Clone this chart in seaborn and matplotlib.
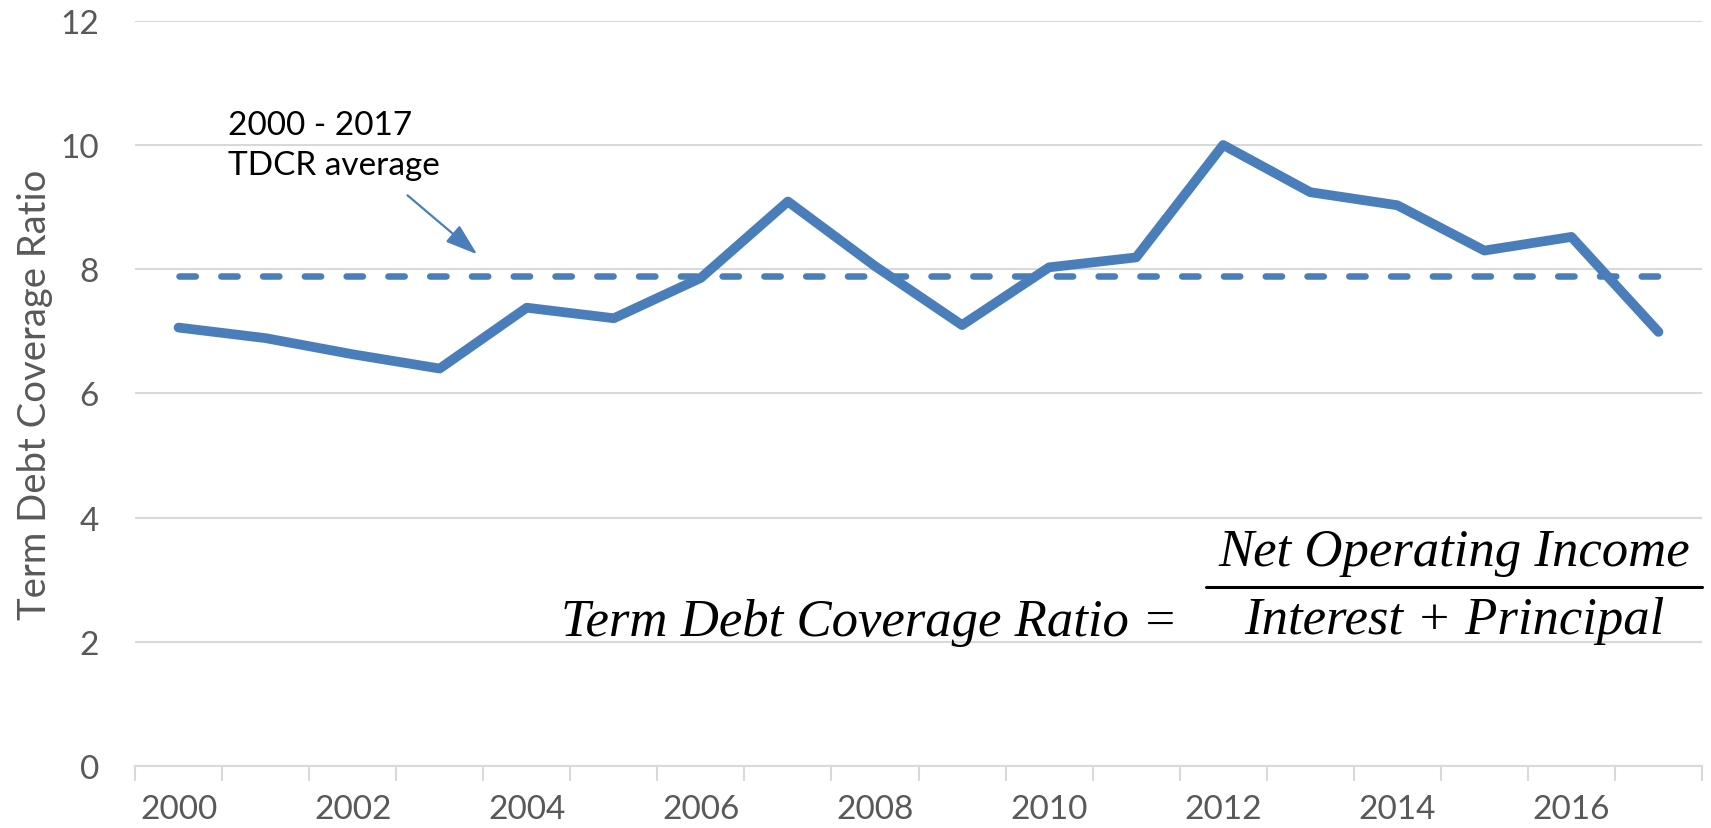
import matplotlib
matplotlib.use('Agg')
import matplotlib.pyplot as plt
import seaborn as sns
import pandas as pd
from matplotlib.lines import Line2D

years = list(range(2000, 2018))
tdcr = [7.06, 6.89, 6.63, 6.40, 7.38, 7.21, 7.86, 9.09, 8.05, 7.10,
        8.03, 8.19, 10.0, 9.24, 9.03, 8.30, 8.52, 6.99]
avg_value = 7.89
x_labels = [str(y) for y in years[::2]]
y_ticks = [0, 2, 4, 6, 8, 10, 12]

sns.set_theme(style='white')
plt.rcParams['font.family'] = ['Lato', 'DejaVu Sans']

BLUE = '#4a7ebb'
GRID = '#d9d9d9'
TXT = '#595959'

W, H = 1711, 829
fig = plt.figure(figsize=(W / 100, H / 100), dpi=100)
ax = fig.add_axes([135 / W, 1 - 767 / H, (1702 - 135) / W, (767 - 21.8) / H])

df = pd.DataFrame({'Year': years, 'TDCR': tdcr})
sns.lineplot(data=df, x='Year', y='TDCR', ax=ax, color=BLUE, linewidth=7,
             solid_joinstyle='round', solid_capstyle='round', zorder=3)
ax.plot([years[0], years[-1]], [avg_value, avg_value], color=BLUE, lw=4.7,
        dashes=(2.5, 3.9), dash_capstyle='round', zorder=2)

ax.set_xlim(years[0] - 0.5, years[-1] + 0.5)
ax.set_ylim(0, 12)
ax.set_yticks(y_ticks)
ax.set_xticks(years[::2])
ax.set_xticklabels(x_labels)
ax.set_xticks([y - 0.5 for y in years] + [years[-1] + 0.5], minor=True)
ax.grid(axis='y', color=GRID, lw=1.5, zorder=0)
ax.grid(axis='x', visible=False)
for s in ['top', 'right', 'left']:
    ax.spines[s].set_visible(False)
ax.spines['bottom'].set_color(GRID)
ax.spines['bottom'].set_linewidth(1.5)
ax.tick_params(axis='x', which='major', length=0, pad=20, labelsize=24, labelcolor=TXT)
ax.tick_params(axis='x', which='minor', length=11, width=1.5, color=GRID, direction='out', bottom=True)
ax.tick_params(axis='y', length=0, pad=26, labelsize=24, labelcolor=TXT)
ax.set_xlabel('')
ax.set_ylabel('Term Debt Coverage Ratio', fontsize=27.5, color=TXT, labelpad=5)

ax.text(2000.57, 10.0, '2000 - 2017\nTDCR average', ha='left', va='center',
        fontsize=24, color='black', linespacing=1.45)
ax.annotate('', xy=(2003.43, 8.24), xytext=(2002.63, 9.19),
            arrowprops=dict(arrowstyle='-|>,head_length=0.9,head_width=0.3', color=BLUE,
                            lw=1.6, mutation_scale=22, shrinkA=0, shrinkB=0))

def fx(px):
    return px / W

def fy(py):
    return 1 - py / H

fkw = dict(family=['Liberation Serif', 'DejaVu Serif'], style='italic', fontsize=38,
           color='black', va='baseline')
fig.text(fx(1178), fy(636), 'Term Debt Coverage Ratio =', ha='right', **fkw)
fig.text(fx(1454), fy(566), 'Net Operating Income', ha='center', **fkw)
fig.text(fx(1454), fy(634), 'Interest + Principal', ha='center', **fkw)
fig.add_artist(Line2D([fx(1206), fx(1702)], [fy(588), fy(588)], color='black', lw=2.2))

fig.savefig('out.png', dpi=100)
